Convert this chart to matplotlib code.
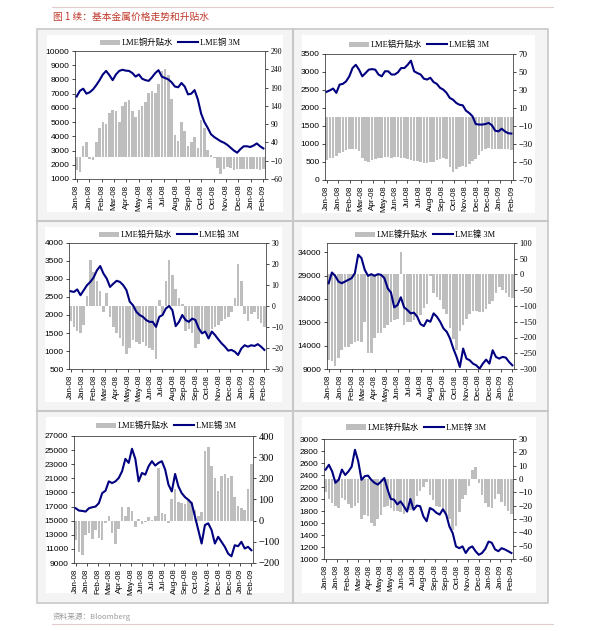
import numpy as np
import matplotlib
matplotlib.use("Agg")
import matplotlib.pyplot as plt
from matplotlib.patches import Rectangle, Patch
from matplotlib.lines import Line2D

W, H = 595, 631

# ---------------- data ----------------
cu_price = [6800, 7200, 7350, 7000, 7100, 7300, 7600, 7950, 8350, 8600,
            8300, 7950, 8350, 8600, 8680, 8620, 8600, 8450, 8200, 8350,
            8050, 7950, 7900, 8150, 8450, 8650, 8200, 8100, 8000, 7800,
            7500, 7450, 7750, 7500, 6950, 7000, 7250, 6600, 5600, 5000,
            4600, 4150, 3950, 3800, 3650, 3550, 3400, 3200, 3000, 2850,
            3100, 3300, 3300, 3250, 3350, 3500, 3300, 3150]
cu_prem = [-35, -40, 30, 40, -5, -8, 40, 80, 95, 90,
           120, 130, 125, 95, 140, 150, 155, 125, 110, 130,
           140, 150, 175, 180, 175, 200, 235, 240, 225, 160,
           60, 45, 95, 70, 30, 40, 55, 25, 100, 80,
           20, 5, -2, -30, -45, -32, -28, -30, -35, -33,
           -34, -32, -33, -34, -32, -34, -35, -33]
cu_ticks = ["Jan-08", "Jan-08", "Feb-08", "Mar-08", "Apr-08", "May-08", "Jun-08", "Jul-08",
            "Aug-08", "Sep-08", "Oct-08", "Oct-08", "Nov-08", "Dec-08", "Jan-09", "Feb-09"]

al_price = [2450, 2490, 2540, 2420, 2650, 2670, 2740, 2880, 3110, 3200,
            3065, 2880, 2970, 3065, 3080, 3065, 2930, 2880, 3020, 3020,
            2930, 2930, 2990, 3110, 3110, 3200, 3315, 3020, 2970, 2930,
            2815, 2790, 2840, 2720, 2670, 2560, 2510, 2420, 2280, 2230,
            2140, 2090, 2075, 1925, 1860, 1770, 1555, 1540, 1540, 1555,
            1585, 1520, 1370, 1350, 1425, 1350, 1300, 1290]
al_prem = [-48, -46, -45, -43, -40, -39, -37, -36, -35, -36,
           -38, -45, -49, -50, -48, -47, -46, -45, -44, -44,
           -45, -44, -44, -45, -46, -47, -48, -49, -49, -50,
           -51, -51, -50, -50, -48, -47, -46, -47, -55, -61,
           -58, -55, -54, -55, -52, -49, -47, -42, -38, -35,
           -34, -35, -36, -35, -35, -36, -36, -37]
al_ticks = ["Jan-08", "Jan-08", "Feb-08", "Mar-08", "Apr-08", "May-08", "Jun-08", "Jul-08",
            "Jul-08", "Aug-08", "Sep-08", "Oct-08", "Nov-08", "Dec-08", "Dec-08", "Jan-09", "Feb-09"]

pb_price = [2660, 2640, 2710, 2550, 2690, 2830, 2920, 3040, 3240, 3360,
            3150, 3010, 2780, 2870, 2950, 2920, 2830, 2690, 2370, 2270,
            2090, 2000, 1950, 1860, 1810, 1810, 1670, 1950, 2000, 2180,
            2250, 2130, 1690, 1810, 2000, 1860, 1810, 1900, 1860, 1630,
            1490, 1540, 1350, 1540, 1440, 1320, 1210, 1120, 1010, 1030,
            980, 890, 1070, 1160, 1120, 1160, 1140, 1190, 1120, 1030]
pb_prem = [-7, -10, -12, -13, -9, 5, 22, 16, 12, 7,
           -3, 6, -5, -10, -13, -15, -19, -23, -20, -16,
           -17, -18, -17, -19, -20, -21, -25, 3, -4, 12,
           22, 15, 8, 4, 1, -12, -11, -13, -20, -18,
           -13, -12, -14, -11, -10, -9, -7, -6, -5, -3,
           4, 20, 12, -4, -7, -4, -3, -6, -8, -10]
pb_ticks = ["Jan-08", "Jan-08", "Feb-08", "Mar-08", "Apr-08", "May-08", "May-08", "Jun-08", "Jul-08",
            "Aug-08", "Sep-08", "Sep-08", "Oct-08", "Nov-08", "Dec-08", "Jan-09", "Jan-09", "Feb-09"]

ni_price = [27380, 29680, 28960, 27740, 27380, 27740, 28100, 28460, 29540, 33490,
            32770, 30260, 28960, 29320, 28960, 29320, 29180, 28460, 26300, 25370,
            22210, 22710, 24370, 22210, 21640, 20920, 21070, 20200, 18620, 18190,
            19480, 19130, 20920, 20200, 19130, 17690, 16970, 15530, 13380, 11590,
            9430, 13380, 11230, 10870, 10150, 9790, 9070, 10150, 11010, 10150,
            13020, 11590, 11230, 11590, 11440, 10510, 9790]
ni_prem = [-270, -275, -290, -265, -240, -230, -230, -220, -215, -210,
           -215, -150, -250, -250, -200, -185, -185, -170, -160, -150,
           -145, -140, 70, -160, -150, -150, -145, -135, -130, -105,
           -95, -5, -60, -70, -80, -110, -125, -170, -205, -240,
           -180, -160, -140, -125, -115, -115, -118, -118, -110, -95,
           -85, -60, -40, -50, -60, -70, -75]
ni_ticks = ["Jan-08", "Jan-08", "Feb-08", "Mar-08", "Apr-08", "May-08", "Jun-08", "Jul-08",
            "Jul-08", "Aug-08", "Sep-08", "Oct-08", "Nov-08", "Dec-08", "Dec-08", "Jan-09", "Feb-09"]

sn_price = [16760, 16430, 16380, 16290, 16760, 16900, 17000, 17480, 18900, 19240,
            20570, 20330, 20570, 21050, 22000, 23760, 23190, 25190, 23760, 20570,
            21760, 21520, 22710, 23430, 22810, 23190, 23430, 22240, 20100, 19140,
            21620, 19860, 18900, 18330, 17950, 17480, 15570, 13670, 11760, 14380,
            14620, 13670, 11760, 12710, 12000, 11290, 10330, 9950, 11520, 11380,
            12000, 11050, 11290, 10810]
sn_prem = [-90, -150, -160, -70, -60, -85, -45, -80, -90, -10,
           20, -60, -110, -40, 65, 20, 65, 45, -30, 10,
           -15, -5, 15, 5, 20, 250, 35, 30, -10, 100,
           150, 90, 85, 80, 100, 90, 50, 20, 40, 330,
           350, 260, 200, 140, 210, 220, 200, 210, 110, 70,
           60, 50, 150, 270]
sn_ticks = ["Jan-08", "Jan-08", "Feb-08", "Mar-08", "Apr-08", "May-08", "Jun-08", "Jul-08",
            "Jul-08", "Aug-08", "Sep-08", "Oct-08", "Nov-08", "Dec-08", "Dec-08", "Jan-09", "Feb-09"]

zn_price = [2490, 2570, 2460, 2270, 2320, 2490, 2400, 2460, 2540, 2820,
            2630, 2320, 2380, 2390, 2320, 2270, 2240, 2290, 2350, 2160,
            2000, 1990, 1910, 1960, 1880, 1790, 2000, 1820, 1890, 1880,
            1710, 1630, 1850, 1820, 1770, 1740, 1830, 1740, 1540, 1430,
            1210, 1180, 1210, 1100, 1180, 1210, 1130, 1070, 1100, 1170,
            1290, 1270, 1160, 1130, 1180, 1160, 1130, 1100]
zn_prem = [-10, -15, -18, -20, -22, -14, -16, -19, -22, -20,
           -18, -30, -27, -28, -33, -35, -30, -27, -21, -20,
           -22, -24, -24, -25, -26, -25, -23, -20, -13, -9,
           -6, -2, -12, -16, -20, -21, -22, -27, -30, -38,
           -35, -25, -15, -12, -5, 7, 9, -3, -12, -18,
           -21, -22, -15, -11, -17, -20, -24, -26]
zn_ticks = ["Jan-08", "Jan-08", "Feb-08", "Mar-08", "Apr-08", "May-08", "May-08", "Jun-08", "Jul-08",
            "Aug-08", "Sep-08", "Sep-08", "Oct-08", "Nov-08", "Dec-08", "Jan-09", "Jan-09", "Feb-09"]

# ---------------- figure ----------------
fig = plt.figure(figsize=(W / 100, H / 100), dpi=100)
fig.patch.set_facecolor("white")


def fx(x):
    return x / W


def fy(y):
    return 1 - y / H


def frect(x0, y0, x1, y1, z=-5, **kw):
    fig.add_artist(Rectangle((fx(x0), fy(y1)), fx(x1) - fx(x0), fy(y0) - fy(y1),
                             transform=fig.transFigure, zorder=z, **kw))


def fline(xs, ys, z=-4, **kw):
    fig.add_artist(Line2D([fx(v) for v in xs], [fy(v) for v in ys],
                          transform=fig.transFigure, zorder=z, **kw))


# page lines, title, footer
fline([52, 553], [7, 7], color="#e3cccc", lw=0.8)
fline([52, 553], [624, 624], color="#e3cccc", lw=0.8)
fig.text(fx(53), fy(17), "图 1 续：基本金属价格走势和升贴水", color="#c0392b",
         fontsize=7, family=["Noto Sans CJK SC", "DejaVu Sans"], va="center", ha="left")
fig.text(fx(53), fy(617), "资料来源：Bloomberg", color="#9a9a9a",
         fontsize=5.5, family=["Noto Sans CJK SC", "DejaVu Sans"], va="center", ha="left")

# grid of cells
frect(37, 29, 548, 603, z=-6, facecolor="#f4f4f4", edgecolor="#c8c8c8", lw=1.2)
fline([293, 293], [29, 603], color="#c8c8c8", lw=1.5)
fline([37, 548], [221, 221], color="#c8c8c8", lw=1.5)
fline([37, 548], [411, 411], color="#c8c8c8", lw=1.5)

NAVY = "#000080"
BARC = "#bebebe"
LEG_FONT = {"family": ["Liberation Serif", "Noto Sans CJK SC"], "size": 6}

panels = [
    dict(white=(47, 35, 283, 212), plot=(75, 51, 265, 179), leg=(170, 43),
         price=cu_price, prem=cu_prem, ticks=cu_ticks, metal="铜",
         lim=(1000, 10000), lticks=np.arange(1000, 10001, 1000),
         rlim=(-60, 290), rticks=np.arange(-60, 291, 50), rsize=5.5),
    dict(white=(302, 35, 535, 213), plot=(325, 54, 513, 180), leg=(419, 45),
         price=al_price, prem=al_prem, ticks=al_ticks, metal="铝",
         lim=(0, 3500), lticks=np.arange(0, 3501, 500),
         rlim=(-70, 70), rticks=np.arange(-70, 71, 20), rsize=6.5),
    dict(white=(45, 227, 282, 402), plot=(69, 243, 266, 369), leg=(169, 235),
         price=pb_price, prem=pb_prem, ticks=pb_ticks, metal="铅",
         lim=(500, 4000), lticks=np.arange(500, 4001, 500),
         rlim=(-30, 30), rticks=np.arange(-30, 31, 10), rsize=5.5),
    dict(white=(302, 227, 536, 402), plot=(327, 243, 514, 369), leg=(425, 235),
         price=ni_price, prem=ni_prem, ticks=ni_ticks, metal="镍",
         lim=(9000, 36000), lticks=np.arange(9000, 34001, 5000),
         rlim=(-300, 100), rticks=np.arange(-300, 101, 50), rsize=6),
    dict(white=(46, 417, 284, 593), plot=(74, 436, 253, 563), leg=(166, 426),
         price=sn_price, prem=sn_prem, ticks=sn_ticks, metal="锡",
         lim=(9000, 27000), lticks=np.arange(9000, 27001, 2000),
         rlim=(-200, 400), rticks=np.arange(-200, 401, 100), rsize=7.5),
    dict(white=(302, 417, 536, 593), plot=(324, 439, 513, 559), leg=(416, 428),
         price=zn_price, prem=zn_prem, ticks=zn_ticks, metal="锌",
         lim=(1000, 3000), lticks=np.arange(1000, 3001, 200),
         rlim=(-60, 30), rticks=np.arange(-60, 31, 10), rsize=6.5),
]

for p in panels:
    frect(*p["white"], facecolor="white", edgecolor="none")
    x0, y0, x1, y1 = p["plot"]
    ax = fig.add_axes([fx(x0), fy(y1), fx(x1) - fx(x0), fy(y0) - fy(y1)])
    ax2 = ax.twinx()
    n = len(p["price"])
    idx = np.arange(n)
    # premium bars on the right-hand scale
    ax.bar(idx, p["prem"], width=0.78, color=BARC, edgecolor="none")
    ax.set_ylim(*p["rlim"])
    ax.set_yticks(p["rticks"])
    ax.yaxis.tick_right()
    ax.yaxis.set_label_position("right")
    ax.tick_params(axis="y", labelsize=p["rsize"], length=2, width=0.5, direction="out", pad=2)
    for lab in ax.get_yticklabels():
        lab.set_family("Liberation Serif")
    ax.set_xlim(-0.5, n - 0.5)
    ax.set_xticks(np.linspace(0, n - 1, len(p["ticks"])))
    ax.set_xticklabels(p["ticks"], rotation=90, fontsize=5.8, family="Liberation Sans")
    ax.tick_params(axis="x", length=2, width=0.5, pad=2)
    for s in ax.spines.values():
        s.set_color("#444444")
        s.set_linewidth(0.6)
    # 3M price line on the left-hand scale
    ax2.plot(idx, p["price"], color=NAVY, lw=1.5)
    ax2.set_ylim(*p["lim"])
    ax2.set_yticks(p["lticks"])
    ax2.yaxis.tick_left()
    ax2.yaxis.set_label_position("left")
    ax2.tick_params(axis="y", labelsize=6, length=2, width=0.5, pad=2)
    for lab in ax2.get_yticklabels():
        lab.set_family("Liberation Sans")
    for s in ax2.spines.values():
        s.set_visible(False)
    handles = [Patch(facecolor=BARC, edgecolor="none"), Line2D([0], [0], color=NAVY, lw=1.5)]
    labels = ["LME" + p["metal"] + "升贴水", "LME" + p["metal"] + " 3M"]
    lx, ly = p["leg"]
    fig.legend(handles, labels, loc="center", bbox_to_anchor=(fx(lx), fy(ly)),
               bbox_transform=fig.transFigure, ncol=2, frameon=False, prop=LEG_FONT,
               handlelength=2.4, handleheight=0.6, handletextpad=0.2, columnspacing=0.6,
               borderpad=0.1)

fig.savefig("out.png", dpi=100, facecolor="white")
